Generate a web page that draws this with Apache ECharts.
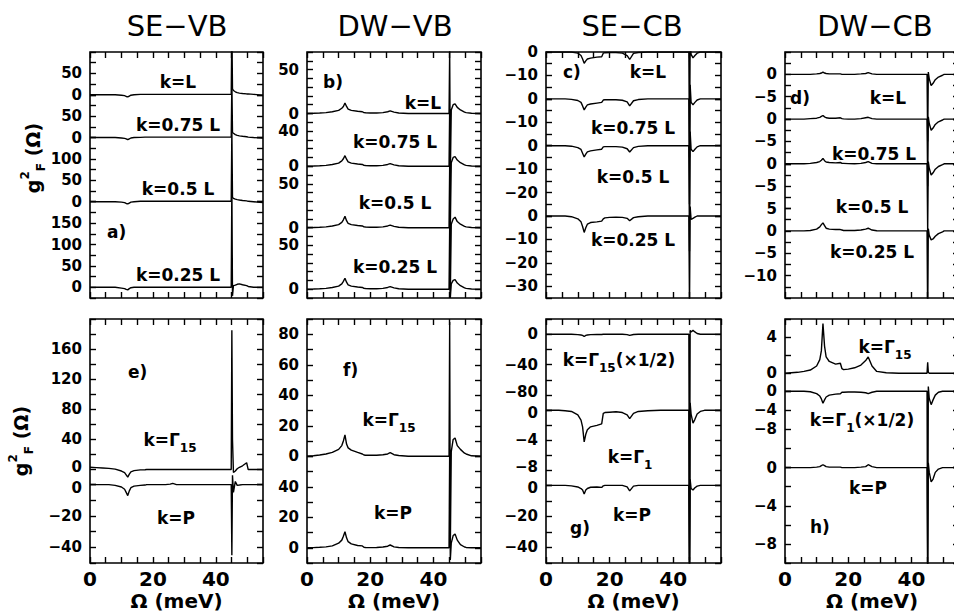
<!DOCTYPE html>
<html><head><meta charset="utf-8">
<script src="https://cdn.jsdelivr.net/npm/echarts@6/dist/echarts.min.js"></script>
<style>html,body{margin:0;padding:0;background:#fff}#c{width:954px;height:614px}</style>
</head><body><div id="c"></div>
<script>
// ---------------- DATA ----------------
const omega = [0,2,4,6,8,10, 11,11.5,12,12.5,13, 14,16,17.5,18,18.5, 20,22,24,25.5,26.3, 27.5,29,32,36,40, 44,44.9,45.1,45.3,45.6, 46.2,46.8,47.5,48.5,49.8, 50.3,52,55];
const titles = ['SE\u2212VB','DW\u2212VB','SE\u2212CB','DW\u2212CB'];
const xTickLabels = [0,20,40];

// a) SE-VB, k = L, 0.75L, 0.5L, 0.25L
const seVbL   = [0,0,0,0,0,-1, -2,-4,-5,-3,-1, 0,1,1,1,1, 1,1,1,1,1, 1,1,1,1,1, 1,1,160,14,10, 7,5,4,3,2, 2,1,-1];
const seVb075 = [0,0,0,0,0,-1, -2,-3,-5,-3,-1, 0,0.5,1,1,1, 1,1,1,1,1, 1,1,1,1,1, 1,1,130,12,10, 7,5,4,3,2, 1,0,-1];
const seVb05  = [0,0,0,0,0,-1, -2,-4,-5,-3,-1, 0,1,1,1,1, 1,1,1,1,1, 1,1,1,1,1, 1,1,170,10,8, 6,5,4,3,2, 1,0,-2];
const seVb025 = [0,0,0,0,0,-2, -3,-5,-6,-3,-1, 0,0,0,0,0, 0,0,0,0,0, 0,0,0,0,0, 0,0,240,-20,4, 5,7,8,6,4, 2,0,0];
const aRanges = [[0,100],[0,100],[0,150],[-25,200]];
const aSteps  = [25,25,25,25];
const aLabels = [[0,50],[0,50],[0,50,100],[0,50,100,150]];

// b) DW-VB
const dwVbL   = [0,0.2,0.5,1,2,3.5, 6,8,12,8,5, 3.5,2.5,2,1,0.8, 0.5,0.5,1,2,3, 1.5,0.5,0,0,0, 0,0,72,-70,4, 10,11,7,4,1.5, 1,0.3,0];
const dwVb075 = [0,0.2,0.5,1,2,3.5, 6,8.5,12,8,5, 3.5,2.5,2,1,0.8, 0.5,0.5,1,2,3, 1.5,0.5,0,0,0, 0,0,65,-70,4, 10,11,7,4,1.5, 1,0.3,0];
const dwVb05  = [0,0.2,0.5,1,2,3.5, 6,9,13,8,5, 3.5,2.5,2,1,0.8, 0.5,0.5,1,2,3, 1.5,0.5,0,0,0, 0,0,70,-75,4, 10,12,7,4,1.5, 1,0.3,0];
const dwVb025 = [0,0.2,0.5,1,2,3.5, 6,9,12.5,8,5, 3.5,2.5,2,1,0.8, 0.5,0.5,1,2,3, 1.5,0.5,0,0,0, 0,0,70,-10,6, 10,11,7,4,1.5, 1,0.3,0];
const bRanges = [[0,70],[0,60],[0,70],[-10,70]];
const bSteps  = [10,10,10,10];
const bLabels = [[0,50],[0,40],[0,50],[0,50]];

// c) SE-CB
const seCbL   = [0,0,0,0,0,-0.5, -1.5,-3,-4.8,-3.8,-3, -2.6,-2.2,-2,-0.5,-0.3, -0.2,-0.2,-0.5,-1.5,-3.2, -0.6,-0.2,0,0,0, 0,0,-45,5,-1, -2.5,-1.5,-0.5,0,0, 0,0,0];
const seCb075 = [0,0,0,0,-0.2,-0.7, -1.5,-3,-4.7,-3.5,-2.6, -2.2,-1.8,-1.5,-0.5,-0.4, -0.4,-0.4,-0.6,-1.3,-3, -0.8,-0.3,0,0,0, 0,0,-45,6,-1.5, -2.5,-1.5,-0.5,0,0, 0,0,0];
const seCb05  = [0,0,0,0,-0.2,-0.8, -1.6,-3.2,-4.8,-3.6,-2.6, -2.2,-1.8,-1.5,-0.5,-0.4, -0.4,-0.4,-0.6,-1.3,-2.7, -0.8,-0.3,0,0,0, 0,0,-45,6,-1.5, -2.5,-1.5,-0.5,0,0, 0,0,0];
const seCb025 = [0,0,0,0,-0.3,-1.2, -2.5,-4.5,-7,-5,-3.5, -2.8,-2.5,-2.2,-1.2,-0.8, -0.6,-0.5,-0.6,-1,-2, -0.7,-0.3,0,0,0, 0,0,-40,4,-1.5, -1,-0.5,0,0,0, 0,0,0];
const cRanges = [[-20,0],[-20,0],[-30,0],[-35,0]];
const cSteps  = [5,5,5,5];
const cLabels = [[0,-10],[0,-10],[0,-10,-20],[0,-10,-20,-30]];

// d) DW-CB
const dwCbL   = [0,0,0,0,0,0.1, 0.2,0.3,0.5,0.3,0.2, 0.1,0.1,0.1,0,0, 0,0,0.1,0.2,0.4, 0.1,0,0,0,0, 0,0,-15,0.5,-1, -2.5,-2,-1.2,-0.6,-0.2, 0,0,0];
const dwCb075 = [0,0,0,0,0.1,0.2, 0.4,0.6,0.8,0.5,0.3, 0.2,0.2,0.3,0.1,0.05, 0,0,0.1,0.3,0.4, 0.1,0,0,0,0, 0,0,-15,0.5,-1, -2.5,-2,-1.2,-0.6,-0.2, 0,0,0];
const dwCb05  = [0,0,0,0,0.1,0.3, 0.5,0.8,1.2,0.7,0.4, 0.3,0.2,0.3,0.1,0.1, 0.05,0,0.1,0.3,0.5, 0.1,0,0,0,0, 0,0,-15,0.5,-1, -2.5,-2,-1.2,-0.6,-0.2, 0,0,0];
const dwCb025 = [0,0,0,0,0.1,0.4, 0.9,1.4,1.8,1.2,0.6, 0.4,0.3,0.3,0.2,0.1, 0.1,0.1,0.2,0.4,0.6, 0.2,0.05,0,0,0, 0,0,-20,0.5,-1, -2,-1.8,-1.2,-0.6,-0.2, 0,0,0];
const dRanges = [[-10,5],[-10,0],[-10,0],[-15,5]];
const dSteps  = [2.5,2.5,2.5,2.5];
const dLabels = [[0,-5],[0,-5],[0,-5],[5,0,-5,-10]];

// e) SE-VB, k = Gamma15, P
const seVbG15 = [3,2.5,2,1.5,0.5,-2, -4,-7,-10,-6,-3, -1.5,-0.5,-0.3,0,0, 0,0,0,0,0, 0,0,0,0,0, 0,0,185,40,-4, -2,1,3,5,9, 0,0,0];
const seVbP   = [0,0,0,0,-0.5,-1.5, -3,-5,-7,-4,-2, -1,-0.5,-0.3,0,0, 0,0,0,0.3,0.8, 0,0,0,0,0, 0,0,-45,6,-5, 2,-0.5,-0.3,0,0, 0,0,0];
const eRanges = [[-20,200],[-50,0]];
const eSteps  = [20,10];
const eLabels = [[0,40,80,120,160],[0,-20,-40]];

// f) DW-VB
const dwVbG15 = [0,0.3,0.8,1.5,2.5,4.5, 7,10,14,8,5.5, 4,2.5,1.5,0.8,0.7, 0.7,0.7,1,1.5,2.3, 1,0.5,0,0,0, 0,0,88,-60,3, 11,12,7,4.5,2, 1.5,0.3,0];
const dwVbP   = [0,0.1,0.3,0.6,1.2,3, 5,7.5,10.5,6.5,4, 2.5,1.5,1.2,0.3,0.2, 0.1,0.2,0.5,1,1.8, 0.6,0.2,0,0,0, 0,0,62,-8,3, 8,9,5,2,0.5, 0.2,0,0];
const fRanges = [[0,90],[-10,60]];
const fSteps  = [10,10];
const fLabels = [[0,20,40,60,80],[0,20,40]];

// g) SE-CB, k = Gamma15 (x1/2), Gamma1, P
const seCbG15 = [0,0,0,0,0,-0.5, -1,-1.5,-3,-1.5,-1, -0.5,-0.3,-0.3,0,0, 0,0,0,-0.5,-1.5, -0.3,0,0,0,0, 0,0,-300,5,3, 5,3,1,0,0, 0,0,0];
const seCbG1  = [0,0,0,-0.05,-0.15,-0.6, -1.3,-2.2,-4.2,-3.2,-2.6, -2.2,-2,-1.8,-0.4,-0.3, -0.25,-0.2,-0.3,-0.6,-1.1, -0.4,-0.15,-0.05,0,0, 0,0,-30,1,-0.5, -1.7,-1.2,-0.5,-0.15,0, 0,0,0];
const seCbP   = [0,0,0,0,-0.3,-1, -2,-3,-5.5,-3,-2, -1.2,-1,-1.3,-0.3,0, 0,0,0,-1,-3.5, -0.5,0,0,0,0, 0,0,-48,4,-2, -3,-1.5,-0.5,0,0, 0,0,0];
const gRanges = [[-100,20],[-10,0],[-50,0]];
const gSteps  = [20,2,10];
const gLabels = [[0,-40,-80],[0,-4,-8],[0,-20,-40]];

// h) DW-CB
const dwCbG15 = [0,0.05,0.1,0.2,0.35,0.8, 1.5,2.5,5.5,3,1.8, 1.3,1.0,1.1,0.5,0.4, 0.45,0.6,0.9,1.4,1.8, 0.8,0.2,0.05,0,0, 0,0,1.2,0.1,0, 0,0,0,0,0, 0,0,0];
const dwCbG1  = [0,0,0,0,-0.1,-0.5, -1,-1.6,-2.5,-1.8,-1.2, -0.8,-0.6,-0.5,-0.2,-0.2, -0.15,-0.15,-0.2,-0.3,-0.5, -0.2,0,0,0,0, 0,0,-40,1,-1.5, -2.8,-1.8,-0.8,-0.2,0, 0,0,0];
const dwCbP   = [0,0,0,0,0,0.05, 0.1,0.2,0.3,0.2,0.1, 0.05,0.05,0.05,0,0, 0,0,0.05,0.1,0.3, 0.1,0,0,0,0, 0,0,-11,0.5,-0.5, -1.5,-1.2,-0.5,-0.15,0, 0,0,0];
const hRanges = [[-2,6],[-16,0],[-10,0]];
const hSteps  = [2,4,2];
const hLabels = [[0,4],[0,-4,-8],[0,-4,-8]];

const curveLabelsRow1 = ['k=L','k=0.75 L','k=0.5 L','k=0.25 L'];
const panelLetters = ['a)','b)','c)','d)','e)','f)','g)','h)'];

// ---------------- LAYOUT ----------------
const FONT = "'DejaVu Sans', sans-serif";
const colL = [90,307,546,785], colW = [173,174,175,174];
const rowT = [52,319], rowH = [246,244];
const panels = [
  {c:0,r:0,curves:[seVbL,seVb075,seVb05,seVb025],ranges:aRanges,steps:aSteps,labels:aLabels,sc:[1,1,1,1]},
  {c:1,r:0,curves:[dwVbL,dwVb075,dwVb05,dwVb025],ranges:bRanges,steps:bSteps,labels:bLabels,sc:[1,1,1,1]},
  {c:2,r:0,curves:[seCbL,seCb075,seCb05,seCb025],ranges:cRanges,steps:cSteps,labels:cLabels,sc:[1,1,1,1]},
  {c:3,r:0,curves:[dwCbL,dwCb075,dwCb05,dwCb025],ranges:dRanges,steps:dSteps,labels:dLabels,sc:[1,1,1,1]},
  {c:0,r:1,curves:[seVbG15,seVbP],ranges:eRanges,steps:eSteps,labels:eLabels,sc:[0.744,1.55],
    nudge:[{'0':'up'},{'0':'dn'}]},
  {c:1,r:1,curves:[dwVbG15,dwVbP],ranges:fRanges,steps:fSteps,labels:fLabels,sc:[1,1]},
  {c:2,r:1,curves:[seCbG15,seCbG1,seCbP],ranges:gRanges,steps:gSteps,labels:gLabels,sc:[0.76,7.5,1.55],
    nudge:[{'-80':'up'},{'0':'dn','-8':'up'},{'0':'dn'}]},
  {c:3,r:1,curves:[dwCbG15,dwCbG1,dwCbP],ranges:hRanges,steps:hSteps,labels:hLabels,sc:[9,4.75,9.5]}
];

const fmtNum = v => String(v).replace('-', '\u2212');
const grid = [], xAxis = [], yAxis = [], series = [];
const tickStyle = {inside:true, length:6, lineStyle:{color:'#000', width:1.4}};
const labelFont = {fontSize:15, fontWeight:'bold', fontFamily:FONT, color:'#000'};
const labelRich = {
  n: Object.assign({}, labelFont),
  up: Object.assign({padding:[0,0,6,0]}, labelFont),
  dn: Object.assign({padding:[6,0,0,0]}, labelFont)
};

panels.forEach(p => {
  const left = colL[p.c], width = colW[p.c], top = rowT[p.r], height = rowH[p.r];
  const gp = grid.length;
  grid.push({left, top, width, height, show:true, borderColor:'#000', borderWidth:1.6, backgroundColor:'transparent', containLabel:false, outerBoundsMode:'none'});
  const xb = xAxis.length;
  xAxis.push({gridIndex:gp, type:'value', min:0, max:55, interval:5, position:'bottom',
    axisLine:{show:false, onZero:false}, axisTick:tickStyle, splitLine:{show:false},
    axisLabel:{show:p.r===1, margin:6, color:'#000', fontSize:20, fontWeight:'bold', fontFamily:FONT,
      showMinLabel:true, showMaxLabel:true,
      formatter: v => xTickLabels.includes(v) ? String(v) : ''},
    name: p.r===1 ? '\u03A9 (meV)' : '', nameLocation:'middle', nameGap:28,
    nameTextStyle:{color:'#000', fontSize:20, fontWeight:'bold', fontFamily:FONT}});
  xAxis.push({gridIndex:gp, type:'value', min:0, max:55, interval:5, position:'top',
    axisLine:{show:false, onZero:false}, axisTick:tickStyle, splitLine:{show:false}, axisLabel:{show:false}});
  // band layout
  const raw = p.ranges.map((r,i) => (r[1]-r[0]) * p.sc[i]);
  const k = height / raw.reduce((a,b)=>a+b,0);
  let y = top;
  p.ranges.forEach((r,i) => {
    const h = raw[i]*k, bTop = y, bBot = y + h; y = bBot;
    const gb = grid.length;
    grid.push({left, top:bTop, width, height:h, show:false, containLabel:false, outerBoundsMode:'none'});
    xAxis.push({gridIndex:gb, type:'value', min:0, max:55, show:false, axisLine:{onZero:false}});
    const labs = p.labels[i];
    const nudge = (p.nudge && p.nudge[i]) || {};
    yAxis.push({gridIndex:gb, type:'value', min:r[0], max:r[1], interval:p.steps[i], position:'left',
      axisLine:{show:false, onZero:false}, axisTick:tickStyle, splitLine:{show:false},
      axisLabel:Object.assign({margin:8, showMinLabel:true, showMaxLabel:true, rich:labelRich,
        formatter: v => {
          for (const l of labs) if (Math.abs(v-l) < 1e-6) {
            const st = nudge[String(l)] || 'n';
            return '{' + st + '|' + fmtNum(l) + '}';
          }
          return '';
        }}, labelFont)});
    yAxis.push({gridIndex:gb, type:'value', min:r[0], max:r[1], interval:p.steps[i], position:'right',
      axisLine:{show:false, onZero:false}, axisTick:tickStyle, splitLine:{show:false}, axisLabel:{show:false}});
    const s = h / (r[1]-r[0]);
    const yh = yAxis.length;
    yAxis.push({gridIndex:gp, type:'value', show:false, axisLine:{onZero:false},
      min: r[0] - (top+height - bBot)/s, max: r[1] + (bTop - top)/s, splitLine:{show:false}});
    const curve = p.curves[i];
    series.push({type:'line', xAxisIndex:xb, yAxisIndex:yh, showSymbol:false, symbol:'none',
      data: omega.map((x,j) => [x, curve[j]]), clip:true,
      lineStyle:{color:'#000', width:1.4}, silent:true});
  });
});

// ---------------- TEXT ----------------
const rich = {
  t:{fontSize:17, fontWeight:'bold', fontFamily:FONT, lineHeight:28, color:'#000'},
  s:{fontSize:12, fontWeight:'bold', fontFamily:FONT, lineHeight:12, verticalAlign:'bottom', color:'#000'},
  u:{fontSize:12, fontWeight:'bold', fontFamily:FONT, lineHeight:12, verticalAlign:'top', color:'#000'},
  g:{fontSize:19, fontWeight:'bold', fontFamily:FONT, lineHeight:28, color:'#000'}
};
function txt(x, y, text, align, extra) {
  return Object.assign({type:'text', x, y, silent:true, z:100,
    style:{text, rich, fill:'#000', font:'bold 17px ' + FONT, align, textAlign:align,
      verticalAlign:'middle', textVerticalAlign:'middle'}}, extra||{});
}
const graphic = [];
const titleX = [177,395,632,875];
titles.forEach((t,i) => graphic.push({type:'text', x:titleX[i], y:26, silent:true,
  style:{text:t, fill:'#000', font:'29px ' + FONT, align:'center', textAlign:'center', verticalAlign:'middle', textVerticalAlign:'middle'}}));
// y axis names
const yName = '{g|g}{u|2}{s|F}{g| (\u03A9)}';
graphic.push(txt(33, 158, yName, 'center', {rotation: Math.PI/2}));
graphic.push(txt(21, 441, yName, 'center', {rotation: Math.PI/2}));
// row 1 curve labels
const r1x = [[178,178,178,178],[423,395,395,395],[648,633,633,633],[888,874,872,872]];
const r1y = [[82,125,189,275],[103,142,203,267],[72,128,177,240],[98,154,207,252]];
for (let c=0;c<4;c++) for (let i=0;i<4;i++)
  graphic.push(txt(r1x[c][i], r1y[c][i], '{t|' + curveLabelsRow1[i] + '}', 'center'));
// row 2 curve labels
graphic.push(txt(170, 440, '{t|k=\u0393}{s|15}', 'center'));
graphic.push(txt(176, 518, '{t|k=P}', 'center'));
graphic.push(txt(389, 420, '{t|k=\u0393}{s|15}', 'center'));
graphic.push(txt(393, 513, '{t|k=P}', 'center'));
graphic.push(txt(619, 360, '{t|k=\u0393}{s|15}{t|(\u00D71/2)}', 'center'));
graphic.push(txt(630, 457, '{t|k=\u0393}{s|1}', 'center'));
graphic.push(txt(632, 515, '{t|k=P}', 'center'));
graphic.push(txt(885, 347, '{t|k=\u0393}{s|15}', 'center'));
graphic.push(txt(862, 420, '{t|k=\u0393}{s|1}{t|(\u00D71/2)}', 'center'));
graphic.push(txt(868, 488, '{t|k=P}', 'center'));
// panel letters
const letterPos = [[107,232],[323,82],[563,72],[790,98],[128,372],[343,370],[570,528],[810,527]];
panelLetters.forEach((l,i) => graphic.push(txt(letterPos[i][0], letterPos[i][1], '{t|' + l + '}', 'left')));

const chart = echarts.init(document.getElementById('c'), null, {renderer:'svg'});
chart.setOption({animation:false, backgroundColor:'#fff', grid, xAxis, yAxis, series, graphic});
</script></body></html>
